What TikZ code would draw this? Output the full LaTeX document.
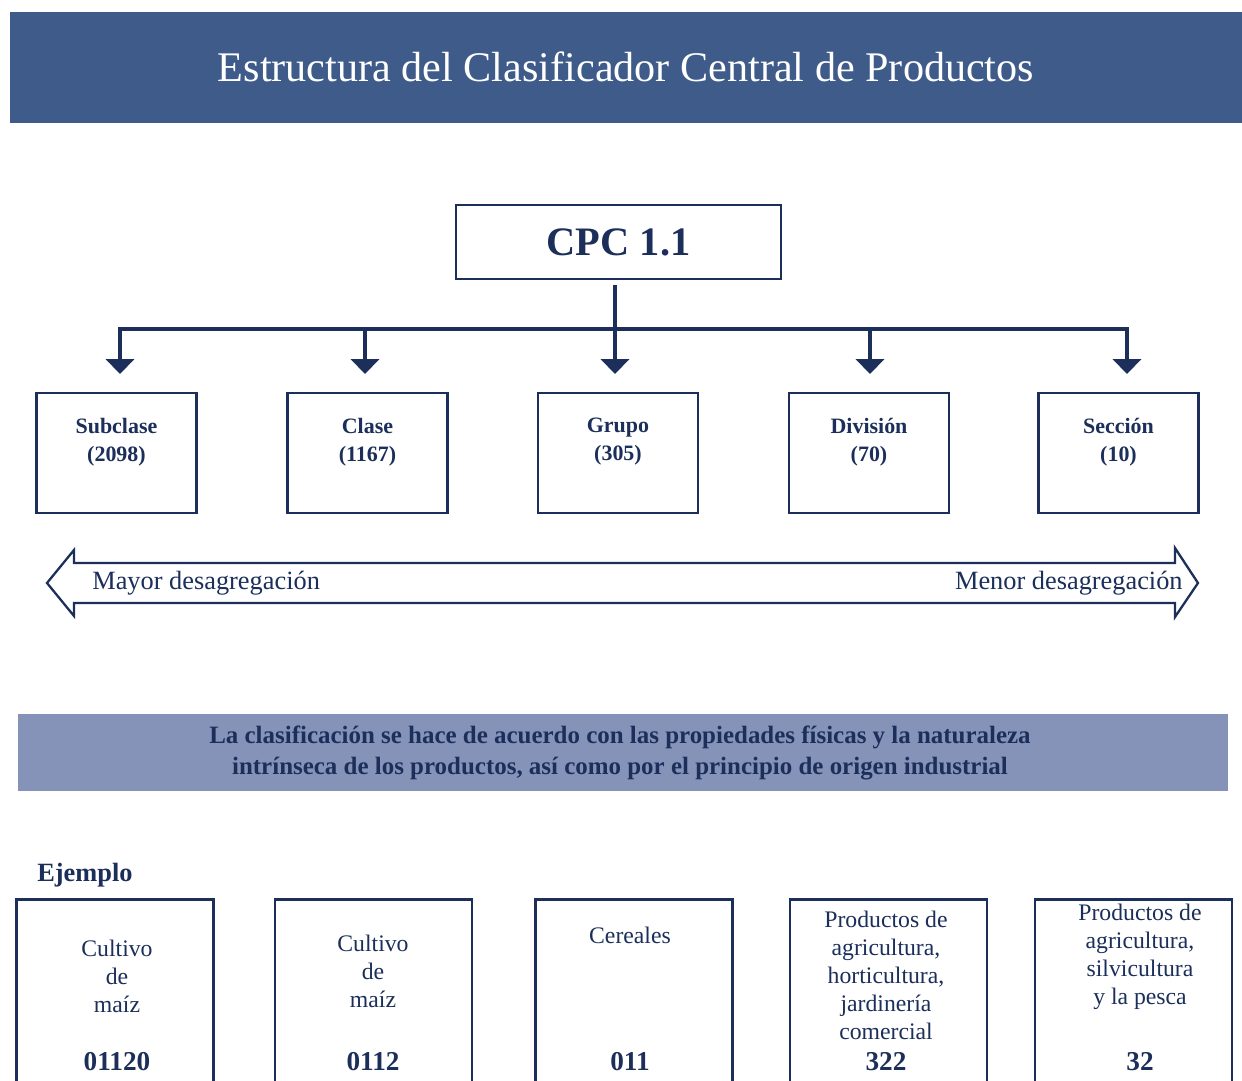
\documentclass[tikz,border=0pt]{standalone}
\usepackage{fontspec}
\setmainfont{Liberation Serif}
\usetikzlibrary{arrows.meta}
\definecolor{navy}{HTML}{1B2F5A}
\definecolor{titlebg}{HTML}{3E5B8A}
\definecolor{bandbg}{HTML}{8593B8}
\begin{document}
\begin{tikzpicture}[x=0.02cm,y=-0.02cm,
  lvlbox/.style={draw=navy, line width=1.6pt, minimum width=3.2cm, minimum height=2.4cm, inner sep=0pt},
  exbox/.style={draw=navy, line width=1.6pt, minimum width=3.94cm, minimum height=5.2cm, inner sep=0pt},
  lvltext/.style={text=navy, align=center, font=\fontsize{12.5}{15.9}\selectfont\bfseries},
  extext/.style={text=navy, align=center, font=\fontsize{13.5}{15.9}\selectfont},
  exnum/.style={text=navy, font=\fontsize{15.5}{18}\selectfont\bfseries},
  bus/.style={draw=navy, line width=2pt},
  arr/.style={bus, -{Triangle[width=16pt,length=8.5pt]}}
]
\clip (0,0) rectangle (1242,1081);
\fill[white] (0,0) rectangle (1242,1081);
% title
\fill[titlebg] (10,12) rectangle (1242,123);
\node[text=white, font=\fontsize{24}{28}\selectfont] (title) at (626,67) {Estructura del Clasificador Central de Productos};
% CPC
\node[draw=navy, line width=1.6pt, minimum width=6.5cm, minimum height=1.48cm, text=navy, font=\fontsize{23}{28}\selectfont\bfseries] (cpc) at (618.5,242) {CPC 1.1};
% level boxes
\node[lvlbox] (b1) at (116.5,453) {};
\node[lvlbox] (b2) at (367.5,453) {};
\node[lvlbox] (b3) at (618,453) {};
\node[lvlbox] (b4) at (869,453) {};
\node[lvlbox] (b5) at (1118.5,453) {};
\node[lvltext] (l1) at (116.5,442) {Subclase\\(2098)};
\node[lvltext] (l2) at (367.5,442) {Clase\\(1167)};
\node[lvltext] (l3) at (618,442) {Grupo\\(305)};
\node[lvltext] (l4) at (869,442) {División\\(70)};
\node[lvltext] (l5) at (1118.5,442) {Sección\\(10)};
% bus and arrows
\coordinate (hl) at (120,329);
\coordinate (hr) at (1127,329);
\coordinate (c0) at (615,285);
\coordinate (t1) at (120,374);
\coordinate (t2) at (365,374);
\coordinate (t3) at (615,374);
\coordinate (t4) at (870,374);
\coordinate (t5) at (1127,374);
\draw[bus, line cap=rect] (hl) -- (hr);
\draw[arr] (c0) -- (t3);
\draw[arr] (hl) -- (t1);
\draw[arr] (t2 |- hl) -- (t2);
\draw[arr] (t4 |- hl) -- (t4);
\draw[arr] (hr) -- (t5);
% double arrow
\draw[navy, line width=1.3pt, fill=white, line join=miter] (47,583) -- (74,550) -- (74,563) -- (1175,563) -- (1175,548) -- (1198,583) -- (1175,617) -- (1175,603) -- (74,603) -- (74,616) -- cycle;
\node[anchor=west, text=navy, font=\fontsize{15}{17}\selectfont, inner sep=0pt] (mayor) at (92,583) {Mayor desagregación};
\node[anchor=east, text=navy, font=\fontsize{15}{17}\selectfont, inner sep=0pt] (menor) at (1183,583) {Menor desagregación};
% band
\fill[bandbg] (18,714) rectangle (1228,791);
\node[text=navy, align=center, font=\fontsize{14.2}{18}\selectfont\bfseries] (band) at (620,753) {La clasificación se hace de acuerdo con las propiedades físicas y la naturaleza\\intrínseca de los productos, así como por el principio de origen industrial};
% example
\node[anchor=west, text=navy, font=\fontsize{15}{18}\selectfont\bfseries, inner sep=0pt] (ej) at (37,875) {Ejemplo};
\node[exbox, anchor=north] (e1) at (115,898) {};
\node[exbox, anchor=north] (e2) at (373.5,898) {};
\node[exbox, anchor=north] (e3) at (634,898) {};
\node[exbox, anchor=north] (e4) at (888.5,898) {};
\node[exbox, anchor=north] (e5) at (1133.5,898) {};
\node[extext] (x1) at (117,976) {Cultivo\\de\\maíz};
\node[extext] (x2) at (373,971) {Cultivo\\de\\maíz};
\node[extext] (x3) at (630,935) {Cereales};
\node[extext] (x4) at (886,975.5) {Productos de\\agricultura,\\horticultura,\\jardinería\\comercial};
\node[extext] (x5) at (1140,957) {Productos de\\agricultura,\\silvicultura\\y la pesca};
\node[exnum] (n1) at (117,1062) {01120};
\node[exnum] (n2) at (373,1062) {0112};
\node[exnum] (n3) at (630,1062) {011};
\node[exnum] (n4) at (886,1062) {322};
\node[exnum] (n5) at (1140,1062) {32};
\end{tikzpicture}
\end{document}
